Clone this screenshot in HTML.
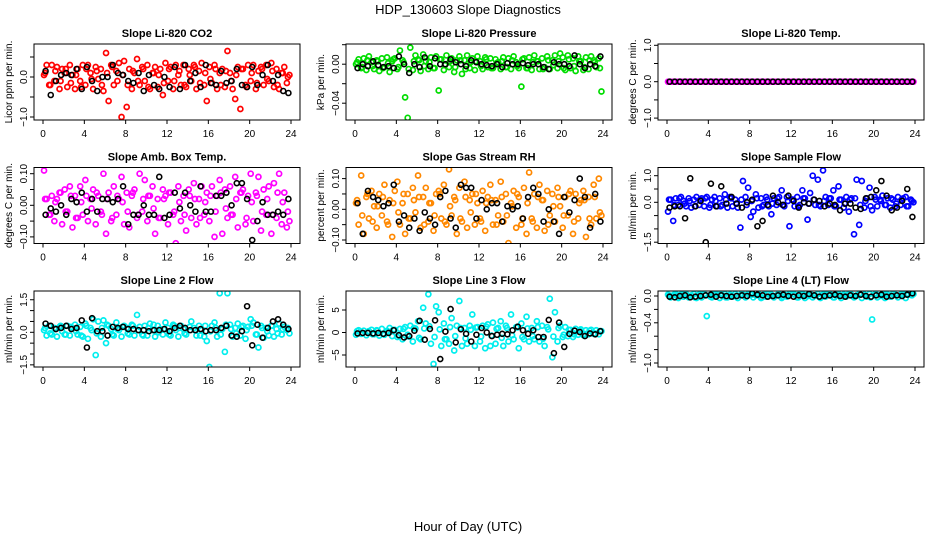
<!DOCTYPE html>
<html><head><meta charset="utf-8"><style>
html,body{margin:0;padding:0;background:#fff;}
svg{display:block;font-family:"Liberation Sans",Arial,sans-serif;}
</style></head><body>
<svg id="chart" width="936" height="540" viewBox="0 0 936 540" xmlns="http://www.w3.org/2000/svg">
<rect width="936" height="540" fill="#fff"/>
<text x="468" y="14" text-anchor="middle" font-size="13">HDP_130603  Slope Diagnostics</text>
<text x="468" y="531" text-anchor="middle" font-size="13">Hour of Day (UTC)</text>
</svg>
<script>
const xTicks=[0,4,8,12,16,20,24];
const titles=["Slope Li-820 CO2","Slope Li-820 Pressure","Slope Li-820 Temp.","Slope Amb. Box Temp.","Slope Gas Stream RH","Slope Sample Flow","Slope Line 2 Flow","Slope Line 3 Flow","Slope Line 4 (LT) Flow"];
const yTitles=["Licor ppm per min.","kPa per min.","degrees C per min.","degrees C per min.","percent per min.","ml/min per min.","ml/min per min.","ml/min per min.","ml/min per min."];
const c1=[0.05,0.3,-0.2,0.3,-0.1,0.25,-0.3,0.2,0.1,-0.25,0.3,0.05,-0.3,0.2,-0.1,0.3,-0.2,0.3,0.1,-0.3,0.25,-0.05,0.2,-0.35,0.6,-0.6,0.3,-0.2,0.15,0.35,-1.0,0.4,-0.75,0.2,-0.3,0.1,0.45,-0.2,0.25,-0.1,0.3,-0.3,0.1,0.25,-0.25,0.2,-0.45,0.35,-0.1,0.25,-0.3,0.3,0.05,-0.2,0.3,-0.25,0.2,-0.1,0.3,-0.3,0.15,0.35,-0.2,-0.6,0.25,-0.15,0.3,-0.3,0.1,0.2,-0.25,0.65,0.1,-0.3,-0.55,0.25,-0.8,0.2,-0.2,0.3,-0.1,0.3,-0.3,0.15,0.25,-0.2,0.3,-0.1,0.35,-0.25,0.2,-0.3,0.1,0.25,-0.15,0.05];
const d1=[0.1,-0.2,0.15,-0.1,0.2,-0.15,0.05,-0.25,0.2,-0.05,0.15,-0.2,0.1,0.25,-0.1,0.05,-0.2,0.15,-0.1,0.2,-0.25,0.1,0.05,-0.15,0.2,-0.1,0.15,-0.2,0.05,0.25,-0.15,0.1,-0.05,0.2,-0.2,0.15,-0.1,0.05,0.2,-0.25,0.1,-0.15,0.2,-0.05,0.15,-0.2,0.1,0.0];
const b1=[0.15,-0.45,-0.1,0.05,0.1,0.05,0.2,-0.3,0.25,-0.1,-0.35,0.0,0.0,0.3,0.1,0.05,-0.1,-0.15,0.1,-0.35,0.05,-0.2,-0.3,0.0,-0.25,0.25,-0.3,0.3,-0.1,0.1,-0.25,0.3,-0.15,-0.2,0.15,-0.15,-0.1,0.2,-0.2,-0.25,0.25,-0.2,0.05,0.3,-0.1,0.05,-0.35,-0.4];
const c2=[0.0,0.005,-0.004,0.006,-0.006,0.008,0.002,-0.005,0.004,-0.007,0.006,-0.003,0.007,-0.008,0.003,0.006,-0.005,0.014,0.004,-0.034,-0.055,0.017,-0.006,0.009,0.005,-0.007,0.01,0.003,-0.005,0.007,-0.004,0.008,-0.027,0.005,-0.006,0.009,-0.003,0.006,-0.008,0.004,0.008,-0.01,0.004,0.009,-0.004,0.006,-0.006,0.008,0.003,-0.005,0.007,-0.003,0.006,-0.004,0.005,0.002,-0.005,0.007,-0.003,0.006,-0.005,0.008,0.002,-0.004,-0.023,0.006,-0.004,0.007,-0.006,0.009,0.003,-0.005,0.006,-0.003,0.008,-0.005,0.004,0.009,-0.004,0.011,0.007,-0.006,0.009,-0.004,0.006,-0.007,0.008,0.003,-0.006,0.007,-0.005,0.008,0.004,-0.003,0.006,-0.028];
const d2=[0.002,-0.003,0.004,-0.002,0.003,-0.004,0.001,0.005,-0.003,0.002,-0.005,0.003,0.004,-0.002,0.002,-0.004,0.005,-0.001,0.003,-0.003,0.004,-0.005,0.002,0.003,-0.002,0.005,-0.004,0.001,0.003,-0.003,0.004,-0.002,0.005,-0.004,0.002,0.003,-0.005,0.004,-0.001,0.003,-0.004,0.005,-0.002,0.003,-0.003,0.004,0.002,-0.004];
const b2=[-0.004,0.0,-0.002,0.003,-0.001,-0.003,-0.002,-0.004,0.008,0.0,-0.009,0.0,-0.003,0.007,-0.002,0.006,0.0,0.0,0.005,0.002,0.0,-0.002,0.004,0.002,0.0,-0.001,-0.002,0.0,-0.003,0.001,0.0,0.0,0.001,-0.001,0.0,0.0,-0.003,-0.005,0.002,0.0,0.0,-0.002,0.009,0.0,-0.004,0.0,-0.002,0.008];
const c3=[0,0,0,0,0,0,0,0,0,0,0,0,0,0,0,0,0,0,0,0,0,0,0,0,0,0,0,0,0,0,0,0,0,0,0,0,0,0,0,0,0,0,0,0,0,0,0,0,0,0,0,0,0,0,0,0,0,0,0,0,0,0,0,0,0,0,0,0,0,0,0,0,0,0,0,0,0,0,0,0,0,0,0,0,0,0,0,0,0,0,0,0,0,0,0,0];
const d3=[0,0,0,0,0,0,0,0,0,0,0,0,0,0,0,0,0,0,0,0,0,0,0,0,0,0,0,0,0,0,0,0,0,0,0,0,0,0,0,0,0,0,0,0,0,0,0,0];
const b3=[0,0,0,0,0,0,0,0,0,0,0,0,0,0,0,0,0,0,0,0,0,0,0,0,0,0,0,0,0,0,0,0,0,0,0,0,0,0,0,0,0,0,0,0,0,0,0,0];
const c4=[0.11,0.02,-0.03,0.03,-0.05,0.02,0.04,-0.06,0.05,-0.02,0.06,-0.07,0.03,-0.04,0.06,-0.03,0.08,-0.05,0.02,0.05,-0.06,0.03,-0.02,0.10,-0.09,0.04,-0.05,0.06,-0.03,0.02,0.09,-0.06,0.04,-0.07,0.03,0.05,-0.04,0.10,-0.02,0.08,-0.05,0.03,0.06,-0.09,0.02,-0.04,0.05,0.03,-0.06,0.04,-0.03,-0.12,0.06,-0.05,0.03,-0.08,0.05,-0.04,0.07,-0.06,0.02,0.06,-0.03,0.04,-0.05,0.06,-0.10,0.03,0.08,-0.09,0.05,-0.04,0.06,-0.03,0.09,-0.07,0.04,0.05,-0.06,0.03,0.10,-0.05,0.04,0.09,-0.08,0.05,-0.03,0.06,-0.09,0.07,-0.04,0.10,-0.06,0.04,-0.07,-0.05];
const d4=[0.02,-0.03,0.01,0.04,-0.02,0.03,-0.04,0.01,0.03,-0.01,0.04,-0.03,0.02,-0.04,0.03,0.01,-0.02,0.04,-0.03,0.02,0.03,-0.01,-0.04,0.02,0.04,-0.02,0.01,-0.03,0.03,0.02,-0.04,0.01,0.03,-0.02,0.04,-0.01,-0.03,0.02,0.04,-0.04,0.01,0.03,-0.02,0.02,-0.03,0.04,0.01,-0.02];
const b4=[-0.03,-0.01,-0.02,0.0,-0.03,0.02,0.01,0.04,-0.02,0.02,-0.02,0.02,0.02,0.01,0.02,0.06,-0.06,-0.03,-0.03,0.0,-0.03,-0.03,0.09,-0.04,-0.03,0.04,-0.01,0.04,0.0,-0.02,0.06,-0.02,-0.02,0.03,0.03,0.04,0.0,0.07,0.07,0.02,-0.11,-0.05,0.01,-0.03,-0.03,-0.02,-0.03,0.02];
const c5=[0.02,-0.05,0.11,-0.08,0.04,-0.03,0.06,0.01,-0.06,0.05,-0.02,0.08,-0.04,0.03,-0.09,0.06,0.09,-0.05,0.02,-0.08,0.05,-0.03,0.07,-0.01,0.11,-0.06,0.04,0.07,-0.04,0.02,-0.07,0.05,0.06,-0.03,0.08,-0.05,0.13,-0.02,0.04,-0.08,0.07,-0.04,0.09,-0.06,0.03,0.05,-0.05,0.02,-0.03,0.06,-0.07,0.04,0.08,-0.05,0.03,-0.02,0.09,-0.04,0.05,-0.11,0.02,0.06,-0.06,0.04,-0.05,0.07,-0.08,0.12,-0.03,0.05,-0.06,0.08,0.03,-0.07,0.06,-0.02,0.05,-0.04,0.07,0.01,-0.06,0.04,-0.02,0.06,-0.08,0.05,-0.03,0.03,0.06,-0.09,0.04,-0.05,0.08,-0.03,0.10,-0.02];
const d5=[0.03,-0.02,0.05,-0.04,0.01,0.04,-0.05,0.02,-0.01,0.05,-0.03,0.03,0.04,-0.05,0.02,-0.02,0.05,-0.04,0.01,0.03,-0.03,0.04,-0.01,0.05,-0.04,0.02,0.03,-0.05,0.04,-0.02,0.01,0.05,-0.03,0.02,-0.04,0.04,0.03,-0.05,0.01,0.04,-0.02,0.05,-0.04,0.02,0.03,-0.03,0.04,-0.01];
const b5=[0.02,-0.08,0.06,0.04,0.03,0.01,0.02,0.08,-0.04,-0.02,-0.06,-0.03,-0.07,-0.01,-0.03,-0.05,0.04,0.06,-0.03,-0.06,0.08,0.07,0.07,-0.03,0.03,0.0,0.02,0.02,-0.04,0.01,0.0,0.01,-0.03,0.04,0.07,0.05,-0.04,0.0,-0.04,-0.08,0.04,-0.01,0.03,0.10,0.04,-0.06,0.05,-0.04];
const c6=[-0.35,0.1,-0.7,0.15,-0.1,0.2,0.05,-0.15,0.15,-0.2,0.1,0.2,-0.1,0.15,-0.15,0.2,-0.2,0.1,0.2,-0.15,0.15,-0.1,0.3,-0.2,0.2,-0.15,0.1,-0.2,-0.95,0.8,0.2,0.55,-0.55,-0.35,0.3,-0.2,0.15,-0.1,0.2,-0.15,-0.45,0.15,-0.1,0.2,0.45,-0.15,0.2,-0.9,0.1,-0.15,0.2,-0.1,0.45,0.15,-0.65,0.35,1.0,-0.1,0.85,-0.15,1.2,0.2,-0.1,0.15,0.45,-0.15,0.6,0.1,-0.2,0.2,-0.35,0.15,-1.2,0.85,-0.85,0.8,-0.2,0.15,0.55,-0.3,0.2,-0.15,0.1,0.25,-0.1,0.15,-0.2,0.1,-0.15,0.2,-0.1,0.15,0.2,-0.15,0.1,0.0];
const d6=[0.1,-0.1,0.15,-0.05,0.05,-0.15,0.1,0.15,-0.1,0.05,-0.15,0.1,0.15,-0.05,0.1,-0.1,0.05,0.15,-0.15,0.1,-0.05,0.15,-0.1,0.05,0.1,-0.15,0.15,-0.05,0.1,-0.1,0.05,0.15,-0.15,0.1,-0.05,0.1,0.15,-0.1,0.05,-0.15,0.1,0.05,-0.1,0.15,-0.05,0.1,-0.15,0.05];
const b6=[-0.2,-0.15,-0.15,-0.6,0.9,-0.15,0.05,-1.5,0.7,-0.15,0.6,-0.05,0.2,-0.05,-0.2,0.0,0.1,-0.9,-0.7,-0.1,0.25,0.0,-0.1,0.25,0.05,-0.2,0.0,-0.05,0.1,0.05,-0.15,-0.05,-0.1,-0.3,-0.05,-0.05,-0.2,-0.25,0.15,0.2,0.45,0.8,0.25,-0.3,-0.2,0.05,0.5,-0.55];
const c7=[0.1,-0.15,0.3,-0.1,0.2,-0.2,0.25,0.05,-0.1,0.3,-0.15,0.2,0.35,-0.1,0.25,-0.2,0.4,-0.3,0.2,0.6,-1.05,0.5,-0.2,0.55,-0.5,0.3,0.15,-0.15,0.45,0.1,-0.2,0.3,0.2,-0.1,0.35,-0.15,0.8,0.25,-0.1,0.3,-0.15,0.4,0.1,-0.2,0.3,0.15,-0.1,0.45,0.2,-0.15,0.35,0.1,-0.2,0.3,0.15,-0.1,-1.85,0.5,0.2,-0.15,0.3,0.1,-0.2,-0.4,-1.6,0.3,0.45,-0.2,1.8,0.15,-0.9,1.8,0.35,-0.2,0.2,0.4,-0.15,0.3,-0.3,0.25,0.6,0.45,-0.1,-0.7,0.3,-0.25,0.2,-0.15,0.3,-0.2,0.15,0.4,-0.1,0.25,0.1,-0.05];
const d7=[0.2,-0.05,0.15,0.3,-0.1,0.25,0.05,-0.15,0.3,0.1,-0.05,0.2,0.35,-0.1,0.15,0.25,-0.05,0.3,0.1,-0.15,0.2,0.35,0.0,0.15,-0.1,0.3,0.2,-0.05,0.25,0.1,-0.15,0.3,0.05,0.2,-0.1,0.35,0.15,-0.05,0.25,0.1,0.3,-0.1,0.2,0.05,0.3,-0.05,0.15,0.2];
const b7=[0.4,0.3,0.15,0.2,0.3,0.15,0.2,0.55,-0.7,0.65,0.05,0.05,-0.15,0.25,0.2,0.25,0.15,0.15,0.1,0.1,0.05,0.1,0.1,0.15,0.05,0.2,0.3,0.2,0.1,0.1,0.15,0.05,0.1,0.1,0.2,0.3,-0.15,-0.2,0.05,1.2,-0.6,0.35,-0.25,0.2,0.5,0.6,0.35,0.15];
const c8=[-0.5,0.5,-0.3,0.4,-0.6,0.3,0.6,-0.4,0.5,-0.7,0.8,-0.5,0.4,1.0,-0.8,0.6,-1.0,0.8,-1.5,1.2,-0.5,1.5,-2.0,0.9,2.5,-1.5,5.5,2.0,8.5,-2.5,-7.0,5.8,4.5,-3.0,2.0,-1.5,-2.5,3.2,-4.0,1.5,7.0,-3.0,1.0,-2.5,1.5,4.0,-3.0,1.2,-2.0,1.5,-3.5,1.8,-3.0,2.2,-2.5,1.0,2.5,-3.0,1.5,-2.0,4.0,-1.5,1.2,-3.5,2.0,-1.5,3.5,-2.0,1.0,-1.5,2.5,-2.0,1.5,-3.0,1.2,7.5,-5.5,4.5,-2.0,1.5,-1.0,1.2,-0.8,0.6,-1.0,0.8,-0.5,0.7,-0.6,0.5,-0.4,0.6,-0.3,0.5,-0.4,0.3];
const d8=[0.3,-0.2,0.1,-0.4,0.4,-0.3,0.2,0.6,-0.6,0.8,-0.9,1.0,-1.2,0.9,1.4,-1.0,0.7,-1.5,1.2,-0.8,1.0,-1.3,0.6,1.1,-0.9,1.3,-0.7,0.8,-1.2,1.0,-0.6,1.1,-1.0,0.9,-0.8,1.2,-1.4,0.7,-0.9,1.0,-0.5,0.6,-0.4,0.5,-0.3,0.4,-0.2,0.3];
const b8=[-0.2,-0.1,-0.1,-0.2,-0.1,-0.3,-0.1,0.5,-0.6,-1.1,-0.8,0.4,2.6,-1.6,0.8,2.7,-5.9,0.2,5.2,-2.2,0.7,-0.3,-2.0,-0.5,1.0,0.0,-0.8,-0.5,-0.3,-0.4,0.5,1.3,0.5,-0.3,0.5,-1.0,-1.0,2.8,-4.6,2.2,-3.2,-0.3,0.4,0.1,-0.8,-0.2,-0.4,0.3];
const c9=[0.02,-0.02,0.01,0.03,-0.03,0.02,-0.01,0.03,-0.02,0.01,0.03,-0.03,0.02,-0.02,0.03,-0.3,0.01,-0.02,0.03,0.02,-0.03,0.01,0.03,-0.02,0.02,-0.01,0.03,-0.03,0.01,0.02,-0.02,0.03,0.05,-0.02,0.01,0.03,-0.03,0.02,-0.01,0.03,0.02,-0.02,0.01,0.03,-0.03,0.02,-0.01,0.03,-1.1,0.02,-0.02,0.03,0.01,-0.03,0.02,0.03,-0.02,0.01,0.03,-0.03,0.02,-0.01,0.03,0.02,-0.02,0.01,0.03,-0.03,0.02,-0.01,0.03,0.02,-0.02,0.01,0.03,-0.03,0.02,-0.01,0.03,-0.35,0.02,-0.02,0.01,0.03,-0.03,0.02,-0.01,0.03,0.02,-0.02,0.01,0.03,-0.03,0.02,0.04,0.03];
const d9=[0.01,0.02,-0.01,0.03,0.0,-0.02,0.02,0.01,-0.01,0.03,0.02,-0.02,0.01,0.0,0.03,-0.01,0.02,0.01,-0.02,0.03,0.0,0.02,-0.01,0.01,0.03,-0.02,0.02,0.0,0.01,-0.01,0.03,0.02,-0.02,0.01,0.0,0.03,-0.01,0.02,0.01,-0.02,0.03,0.0,0.02,-0.01,0.01,0.03,0.02,0.01];
const b9=[-0.01,-0.02,0.0,0.01,-0.02,-0.01,0.0,0.01,0.02,-0.01,0.01,0.0,-0.01,0.0,0.01,0.0,0.04,0.02,0.01,-0.01,0.0,0.01,0.02,0.0,-0.01,0.01,0.0,0.03,0.01,-0.01,0.0,0.01,0.02,0.0,-0.01,0.01,0.0,0.02,0.0,-0.01,0.01,0.02,-0.01,0.0,0.01,0.0,0.02,0.04];
const colored=[c1,c2,c3,c4,c5,c6,c7,c8,c9];
const core=[d1,d2,d3,d4,d5,d6,d7,d8,d9];
const black=[b1,b2,b3,b4,b5,b6,b7,b8,b9];
const cHours=c1.map((_,i)=>i*0.25+0.1);
const dHours=d1.map((_,i)=>i*0.5+0.2);
const bHours=b1.map((_,i)=>i*0.5+0.25);
const yTickVals=[[-1,-0.5,0,0.5],[0.02,0,-0.02,-0.04],[-1,-0.5,0,0.5,1],[-0.1,-0.05,0,0.05,0.1],[-0.1,-0.05,0,0.05,0.1],[-1.5,-1,-0.5,0,0.5,1],[-1.5,-1,-0.5,0,0.5,1,1.5],[-5,0,5],[0,-0.2,-0.4,-0.6,-0.8,-1]];
const yTickLabels=[{"-1":"−1.0","0":"0.0"},{"0":"0.00","-0.04":"−0.04"},{"-1":"−1.0","0":"0.0","1":"1.0"},{"-0.1":"−0.10","0":"0.00","0.1":"0.10"},{"-0.1":"−0.10","0":"0.00","0.1":"0.10"},{"-1.5":"−1.5","0":"0.0","1":"1.0"},{"-1.5":"−1.5","0":"0.0","1.5":"1.5"},{"-5":"−5","0":"0","5":"5"},{"0":"0.0","-0.4":"−0.4","-1":"−1.0"}];
// layout (not data)
const colLeft=[34,346,658], rowTop=[44,167.5,291], W=266, H=76;
const yZero=[77,64.2,81.7,205.3,209.3,202.3,332.3,332.5,296];
const yK=[40,975,36.4,316,307,26.6,21.7,4.5,67];
const colors=["#ff0000","#00dd00","#ff00ff","#ff00ff","#ff8800","#0000ff","#00eeee","#00eeee","#00eeee"];
const svg=document.getElementById('chart');
const NS="http://www.w3.org/2000/svg";
function mk(tag,attrs,parent){const e=document.createElementNS(NS,tag);for(const k in attrs)e.setAttribute(k,attrs[k]);(parent||svg).appendChild(e);return e;}
for(let p=0;p<9;p++){
  const L=colLeft[p%3], T=rowTop[Math.floor(p/3)];
  const g=mk('g',{});
  
  
  const xs=h=>L+9+h*(248/24);
  const ys=v=>yZero[p]-v*yK[p];
  const clip=mk('clipPath',{id:'cl'+p},g);
  mk('rect',{x:L,y:T,width:W,height:H},clip);
  const pts=mk('g',{'clip-path':'url(#cl'+p+')'},g);
  colored[p].forEach((v,i)=>{
    const c=mk('circle',{cx:xs(cHours[i]),cy:ys(v),r:2.5,fill:'none',stroke:colors[p],'stroke-width':1.7},pts);
    
    
  });
  core[p].forEach((v,i)=>{
    const c=mk('circle',{cx:xs(dHours[i]),cy:ys(v),r:2.5,fill:'none',stroke:colors[p],'stroke-width':1.7},pts);
    
    
  });
  black[p].forEach((v,i)=>{
    const c=mk('circle',{cx:xs(bHours[i]),cy:ys(v),r:2.5,fill:'none',stroke:'#000','stroke-width':1.6},pts);
    
    
  });
  const box=mk('rect',{x:L,y:T,width:W,height:H,fill:'none',stroke:'#000','stroke-width':1},g);
  
  
  const t=mk('text',{x:L+W/2,y:T-7,'text-anchor':'middle','font-size':11,'font-weight':'bold'},g);
  t.textContent=titles[p];
  
  
  const yt=mk('text',{x:0,y:0,'text-anchor':'middle','font-size':10,transform:`translate(${L-22},${T+H/2}) rotate(-90)`},g);
  yt.textContent=yTitles[p];
  
  
  xTicks.forEach(h=>{
    mk('line',{x1:xs(h),x2:xs(h),y1:T+H,y2:T+H+4,stroke:'#000'},g);
    const lb=mk('text',{x:xs(h),y:T+H+17,'text-anchor':'middle','font-size':10},g);
    lb.textContent=h;
    
    
  });
  yTickVals[p].forEach(v=>{
    mk('line',{x1:L-4,x2:L,y1:ys(v),y2:ys(v),stroke:'#000'},g);
    const s=yTickLabels[p][String(v)];
    if(s){
      const lb=mk('text',{x:0,y:0,'text-anchor':'middle','font-size':10,transform:`translate(${L-7},${ys(v)}) rotate(-90)`},g);
      lb.textContent=s;
      
      
    }
  });
}
</script>
</body></html>
